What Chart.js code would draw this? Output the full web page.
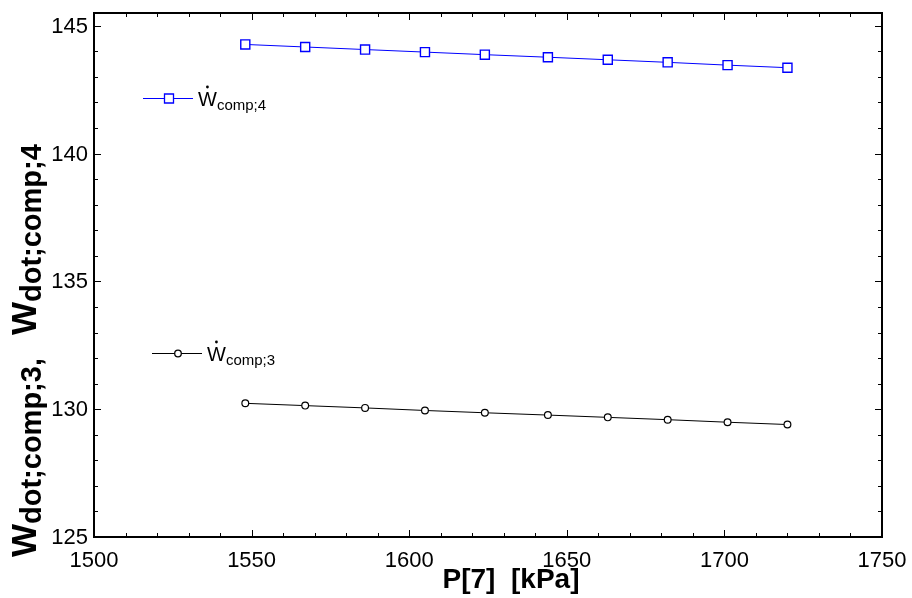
<!DOCTYPE html>
<html>
<head>
<meta charset="utf-8">
<script src="https://cdn.jsdelivr.net/npm/chart.js@4.4.1/dist/chart.umd.min.js"></script>
<style>
html,body{margin:0;padding:0;background:#fff;}
#wrap{width:912px;height:598px;}
</style>
</head>
<body>
<div id="wrap"><canvas id="c" width="912" height="598"></canvas></div>
<script>
// ---- data ----
const pressure = [1548, 1567, 1586, 1605, 1624, 1644, 1663, 1682, 1701, 1720];
const wComp4 = [144.27, 144.17, 144.07, 143.97, 143.87, 143.77, 143.67, 143.57, 143.46, 143.36];
const wComp3 = [130.23, 130.14, 130.05, 129.95, 129.86, 129.77, 129.68, 129.59, 129.49, 129.40];
const xTickLabels = [1500, 1550, 1600, 1650, 1700, 1750];
const yTickLabels = [125, 130, 135, 140, 145];
const seriesNames = ['comp;4', 'comp;3'];
const xTitle = 'P[7]  [kPa]';

const FONT = "'Liberation Sans', Arial, sans-serif";

function pts(xs, ys) { return xs.map((x, i) => ({ x: x, y: ys[i] })); }

const framePlugin = {
  id: 'frame',
  afterDraw(chart) {
    const ctx = chart.ctx;
    const a = chart.chartArea;
    const xs = chart.scales.x, ys = chart.scales.y;
    ctx.save();
    ctx.strokeStyle = '#000';
    // ticks (inward) on all four sides
    ctx.lineWidth = 1;
    ctx.beginPath();
    for (let v = xs.min; v <= xs.max + 1e-6; v += 10) {
      const px = Math.round(xs.getPixelForValue(v)) + 0.5;
      const major = Math.abs(v % 50) < 1e-6;
      const L = major ? 7 : 4;
      ctx.moveTo(px, a.bottom); ctx.lineTo(px, a.bottom - L);
      ctx.moveTo(px, a.top); ctx.lineTo(px, a.top + L);
    }
    for (let v = 125; v <= 145 + 1e-6; v += 1) {
      const py = Math.round(ys.getPixelForValue(v)) + 0.5;
      const major = Math.abs(v % 5) < 1e-6;
      const L = major ? 7 : 4;
      ctx.moveTo(a.left, py); ctx.lineTo(a.left + L, py);
      ctx.moveTo(a.right, py); ctx.lineTo(a.right - L, py);
    }
    ctx.stroke();
    // border
    ctx.lineWidth = 2;
    ctx.strokeRect(a.left, a.top, a.right - a.left, a.bottom - a.top);

    // tick labels
    ctx.fillStyle = '#000';
    ctx.font = "22px " + FONT;
    ctx.textAlign = 'center';
    ctx.textBaseline = 'alphabetic';
    for (const v of xTickLabels) {
      ctx.fillText(String(v), xs.getPixelForValue(v), a.bottom + 30);
    }
    ctx.textAlign = 'right';
    ctx.textBaseline = 'middle';
    for (const v of yTickLabels) {
      ctx.fillText(String(v), a.left - 6, ys.getPixelForValue(v) + 1);
    }

    // x title
    ctx.textBaseline = 'alphabetic';
    ctx.font = "bold 28px " + FONT;
    ctx.textAlign = 'center';
    ctx.fillText(xTitle, 511, 588);

    // y title (rotated)
    ctx.save();
    ctx.translate(36, 557);
    ctx.rotate(-Math.PI / 2);
    ctx.textAlign = 'left';
    let cx = 0;
    const parts = [
      { t: 'W', f: "bold 35px " + FONT, dy: 0 },
      { t: 'dot;comp;3,', f: "bold 29px " + FONT, dy: 5 },
      { t: 'W', f: "bold 35px " + FONT, dy: 0, gap: 23 },
      { t: 'dot;comp;4', f: "bold 29px " + FONT, dy: 5 }
    ];
    for (const p of parts) {
      ctx.font = p.f;
      if (p.gap) cx += p.gap;
      ctx.fillText(p.t, cx, p.dy);
      cx += ctx.measureText(p.t).width;
    }
    ctx.restore();

    // legend
    const legends = [
      { name: seriesNames[0], color: '#0000ff', x0: a.left + 49, y: 98.5, style: 'rect' },
      { name: seriesNames[1], color: '#000000', x0: a.left + 58, y: 353.5, style: 'circle' }
    ];
    for (const L of legends) {
      ctx.strokeStyle = L.color;
      ctx.lineWidth = 1;
      ctx.beginPath();
      ctx.moveTo(L.x0, L.y); ctx.lineTo(L.x0 + 50, L.y);
      ctx.stroke();
      const mx = L.x0 + 26;
      ctx.fillStyle = '#fff';
      ctx.lineWidth = 1.3;
      ctx.beginPath();
      if (L.style === 'rect') {
        ctx.rect(mx - 4.5, L.y - 4.5, 9, 9);
      } else {
        ctx.arc(mx, L.y, 3.3, 0, Math.PI * 2);
      }
      ctx.fill(); ctx.stroke();
      // text
      ctx.fillStyle = '#000';
      ctx.textAlign = 'left';
      ctx.font = "20px " + FONT;
      const tx = L.x0 + 55;
      ctx.fillText('W', tx, L.y + 7.5);
      const ww = ctx.measureText('W').width;
      ctx.beginPath();
      ctx.arc(tx + ww / 2, L.y - 11.5, 1.4, 0, Math.PI * 2);
      ctx.fill();
      ctx.font = "15px " + FONT;
      ctx.fillText(L.name, tx + ww, L.y + 11.5);
    }
    ctx.restore();
  }
};

new Chart(document.getElementById('c'), {
  type: 'scatter',
  data: {
    datasets: [
      {
        label: 'Wdot comp;4',
        data: pts(pressure, wComp4),
        showLine: true,
        borderColor: '#0000ff',
        backgroundColor: '#ffffff',
        borderWidth: 1,
        pointStyle: 'rect',
        pointRadius: 6.4,
        pointBorderWidth: 1.4,
        pointBorderColor: '#0000ff',
        pointBackgroundColor: '#ffffff'
      },
      {
        label: 'Wdot comp;3',
        data: pts(pressure, wComp3),
        showLine: true,
        borderColor: '#000000',
        backgroundColor: '#ffffff',
        borderWidth: 1,
        pointStyle: 'circle',
        pointRadius: 3.4,
        pointBorderWidth: 1.2,
        pointBorderColor: '#000000',
        pointBackgroundColor: '#ffffff'
      }
    ]
  },
  options: {
    responsive: false,
    animation: false,
    devicePixelRatio: 1,
    layout: { padding: { left: 0, top: 13, right: 30, bottom: 0 } },
    plugins: { legend: { display: false }, tooltip: { enabled: false }, title: { display: false } },
    scales: {
      x: {
        type: 'linear',
        min: 1500, max: 1750,
        afterBuildTicks: s => { s.ticks = xTickLabels.map(v => ({ value: v })); },
        afterFit: s => { s.height = 61; },
        grid: { display: false },
        border: { display: false },
        ticks: { display: false }
      },
      y: {
        type: 'linear',
        min: 125, max: 145.5,
        afterBuildTicks: s => { s.ticks = yTickLabels.map(v => ({ value: v })); },
        afterFit: s => { s.width = 94; },
        grid: { display: false },
        border: { display: false },
        ticks: { display: false }
      }
    }
  },
  plugins: [framePlugin]
});
</script>
</body>
</html>
